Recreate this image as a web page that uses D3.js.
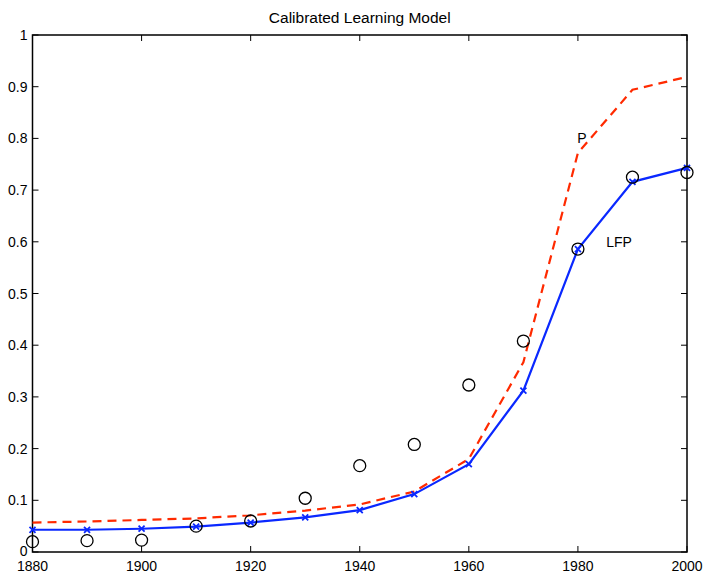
<!DOCTYPE html>
<html><head><meta charset="utf-8">
<script src="https://cdn.jsdelivr.net/npm/d3@7"></script>
<style>body{margin:0;background:#fff;} text{font-family:"Liberation Sans",Arial,Helvetica,sans-serif;}</style>
</head><body><svg id="c" width="707" height="573"></svg>
<script>
const years = [1880,1890,1900,1910,1920,1930,1940,1950,1960,1970,1980,1990,2000];
const lfpModel = [0.043,0.043,0.045,0.049,0.057,0.067,0.081,0.112,0.170,0.312,0.586,0.716,0.743];
const pModel   = [0.057,0.059,0.062,0.065,0.071,0.080,0.092,0.117,0.180,0.367,0.772,0.894,0.919];
const lfpData  = [0.020,0.022,0.023,0.050,0.060,0.104,0.167,0.208,0.323,0.408,0.586,0.725,0.734];
const xTicks = [1880,1900,1920,1940,1960,1980,2000];
const yTicks = [0,0.1,0.2,0.3,0.4,0.5,0.6,0.7,0.8,0.9,1];
const titleText = "Calibrated Learning Model";

const svg = d3.select("#c");
const L=32.5, R=687, T=35, B=552;
const x = d3.scaleLinear().domain([1880,2000]).range([L,R]);
const y = d3.scaleLinear().domain([0,1]).range([B,T]);

const tl = 6;
const g = svg.append("g");
xTicks.forEach(t=>{
  g.append("line").attr("x1",x(t)).attr("x2",x(t)).attr("y1",B).attr("y2",B-tl).attr("stroke","#000");
  g.append("line").attr("x1",x(t)).attr("x2",x(t)).attr("y1",T).attr("y2",T+tl).attr("stroke","#000");
  g.append("text").attr("x",x(t)).attr("y",B+19).attr("text-anchor","middle").attr("font-size",14).text(t);
});
yTicks.forEach(t=>{
  g.append("line").attr("x1",L).attr("x2",L+tl).attr("y1",y(t)).attr("y2",y(t)).attr("stroke","#000");
  g.append("line").attr("x1",R).attr("x2",R-tl).attr("y1",y(t)).attr("y2",y(t)).attr("stroke","#000");
  g.append("text").attr("x",L-5).attr("y",t===0?y(t)+4:y(t)+5).attr("text-anchor","end").attr("font-size",14).text(t);
});
svg.append("rect").attr("x",L).attr("y",T).attr("width",R-L).attr("height",B-T).attr("fill","none").attr("stroke","#000").attr("stroke-width",1.5);

const line = d3.line();
svg.append("path").attr("d",line(years.map((d,i)=>[x(d),y(pModel[i])])))
  .attr("fill","none").attr("stroke","#ff2a00").attr("stroke-width",2.2).attr("stroke-dasharray","9,6");
svg.append("path").attr("d",line(years.map((d,i)=>[x(d),y(lfpModel[i])])))
  .attr("fill","none").attr("stroke","#0a28ff").attr("stroke-width",2.2);
const s=3;
years.forEach((d,i)=>{
  const cx=x(d), cy=y(lfpModel[i]);
  svg.append("path").attr("d",`M${cx-s},${cy-s}L${cx+s},${cy+s}M${cx-s},${cy+s}L${cx+s},${cy-s}`)
    .attr("stroke","#0a28ff").attr("stroke-width",1.8);
});
svg.selectAll("circle.d").data(years).enter().append("circle")
  .attr("cx",d=>x(d)).attr("cy",(d,i)=>y(lfpData[i])).attr("r",6)
  .attr("fill","none").attr("stroke","#000").attr("stroke-width",1.3);

svg.append("text").attr("x",582).attr("y",143).attr("text-anchor","middle").attr("font-size",14).text("P");
svg.append("text").attr("x",619).attr("y",247).attr("text-anchor","middle").attr("font-size",14).text("LFP");
svg.append("text").attr("x",(L+R)/2).attr("y",23).attr("text-anchor","middle").attr("font-size",15.5).text(titleText);
</script></body></html>
